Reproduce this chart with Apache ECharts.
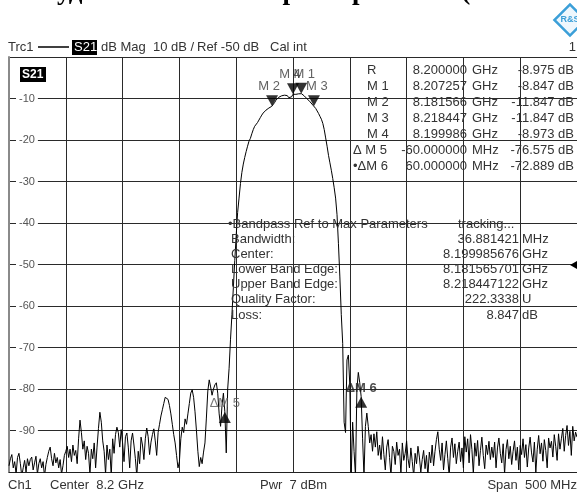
<!DOCTYPE html>
<html><head><meta charset="utf-8">
<script src="https://cdn.jsdelivr.net/npm/echarts@6/dist/echarts.min.js"></script>
<style>html,body{margin:0;padding:0;background:#fff;overflow:hidden}#c{width:577px;height:493px}</style>
</head><body><div id="c"></div>
<script>
// ---- sweep ----
const startMHz = 7950;     // Center 8.2 GHz, Span 500 MHz
const stopMHz = 8450;
const stepMHz = 1.25;      // 401 sweep points
const xTickMHz = 50;
const yMin = -100, yMax = 0, yStep = 10;

// ---- S21 trace (dB), one value per sweep point ----
const traceDb = [
 -98.5,-96.8,-95.8,-99,-97.5,-100.5,-96.5,-95.5,-98,-101,
 -99,-97.2,-100,-96.8,-98.5,-97,-96.4,-99.5,-97.8,-96.2,
 -100.5,-98,-96.8,-99,-97.5,-101,-98.2,-96.5,-95,-94,
 -96.8,-98.5,-95.5,-97.8,-96.5,-99,-97,-100.5,-98.5,-96,
 -95,-93.8,-96.5,-94.5,-97.5,-93.5,-96,-94.8,-98,-92,
 -87.5,-90.5,-94.5,-92.5,-97,-93.8,-95.5,-100.5,-94.5,-96.8,
 -93,-99,-94,-89.5,-85.6,-88,-92.5,-95,-100.5,-93.5,
 -97,-94.5,-101,-92,-95.5,-91,-89.2,-90.5,-94,-89.8,
 -93,-97.5,-91.5,-90.6,-94,-99,-92.5,-90.6,-93.5,-96.8,
 -101,-95,-98,-91.6,-93.5,-97,-92,-89.4,-91.5,-95.8,
 -92.8,-91,-89.6,-92.5,-96,-90.5,-88.5,-86.5,-85,-83.5,
 -82,-81.7,-82.5,-84,-86,-88.5,-91,-93,-96,-99,
 -97.5,-92,-89.2,-90.5,-87.2,-88.5,-86,-83.5,-81,-80.2,
 -82,-85.5,-90,-95,-98.7,-96.5,-98,-95.2,-93,-87,
 -80.5,-77.8,-79.5,-81.5,-80,-79,-78.5,-81,-86,-89,
 -84,-81,-85.5,-95.4,-80,-75,-68,-62,-55.5,-49,
 -43,-37.5,-34,-30.5,-27.8,-25.8,-24.2,-22.8,-21.5,-20.3,
 -19.6,-18.5,-17.5,-16.7,-16.5,-15.8,-15.2,-14.6,-14.0,-13.5,
 -13.1,-12.8,-12.5,-12.3,-12.1,-11.9,-11.5,-11.0,-10.4,-10.0,
 -9.7,-9.5,-9.35,-9.3,-9.2,-9.15,-9.3,-9.8,-10.0,-9.6,
 -8.97,-8.95,-9.0,-8.9,-8.87,-8.85,-8.85,-9.0,-9.4,-9.8,
 -10.1,-10.4,-10.8,-11.2,-11.6,-11.9,-12.4,-13.0,-13.6,-14.3,
 -15.0,-16.0,-17.5,-19.5,-21.5,-23.7,-25.5,-27.3,-29.3,-31.5,
 -34,-38,-45,-53,-62,-69,-88,-90.5,-73,-71.8,
 -79,-101,-88,-95,-101,-80,-76,-78.5,-81.86,-92,
 -101,-89,-85.8,-89,-93,-91,-95,-90.8,-94,-90.3,
 -96,-93.5,-97,-91.5,-95.8,-99.5,-94,-92.2,-96.5,-101,
 -93.8,-95,-98.2,-92.8,-96,-94.5,-100.5,-93,-97.2,-95.5,
 -92.5,-96.8,-99,-94.2,-97.5,-101,-95.5,-98,-93.8,-96.4,
 -100,-97,-94.8,-99.2,-96,-101,-95.2,-97.8,-93.5,-98.5,
 -95,-92.2,-90.3,-94.5,-97.2,-93,-99.5,-95.8,-92.5,-96.8,
 -101,-94,-91.8,-96.5,-93.2,-98,-95,-92.8,-97.5,-94.2,
 -99,-91.5,-95.2,-92,-97.8,-91,-94.6,-100.5,-93,-96.2,
 -92.4,-98.5,-94.8,-91.6,-96,-99.2,-93.5,-95.8,-92.6,-97,
 -94,-96.5,-92.8,-99,-94.2,-91.8,-95.5,-97.8,-93.2,-100.5,
 -94.6,-92.2,-96.8,-93.8,-98.2,-95,-92.5,-97.2,-94,-99.5,
 -93.6,-95.8,-92,-96.5,-93.4,-98.8,-94.2,-91.6,-95.4,-97.6,
 -92.8,-100.2,-94.5,-91.2,-95.6,-93,-97.4,-92.2,-94.8,-99,
 -91.8,-94.2,-92.6,-96.4,-91,-93.8,-97.2,-90.8,-94.5,-92,
 -89.5,-95,-91.2,-88.8,-93.6,-90.2,-96,-89,-92.5,-90.4,
 -91.6
];

// ---- markers ----
const refMarkerMHz = 8200.000, refMarkerDb = -8.975;
const markerNames = ['R', 'M 1', 'M 2', 'M 3', 'M 4', 'Δ M 5', '•ΔM 6'];
const markerStim  = ['8.200000', '8.207257', '8.181566', '8.218447', '8.199986', '-60.000000', '60.000000'];
const markerUnits = ['GHz', 'GHz', 'GHz', 'GHz', 'GHz', 'MHz', 'MHz'];
const markerResp  = ['-8.975', '-8.847', '-11.847', '-11.847', '-8.973', '-76.575', '-72.889'];
// plotted markers: absolute positions
const absMarkerLabels = ['M 1', 'M 2', 'M 3', 'M 4'];
const absMarkerMHz = [8207.257, 8181.566, 8218.447, 8199.986];
const absMarkerDb  = [-8.847, -11.847, -11.847, -8.973];
const deltaMarkerLabels = ['ΔM 5', 'ΔM 6'];
const deltaMarkerMHz = [-60, 60];
const deltaMarkerDb  = [-76.575, -72.889];

// ---- bandpass parameters ----
const bpLabels = ['Bandwidth:', 'Center:', 'Lower Band Edge:', 'Upper Band Edge:', 'Quality Factor:', 'Loss:'];
const bpValues = ['36.881421', '8.199985676', '8.181565701', '8.218447122', '222.3338', '8.847'];
const bpUnits  = ['MHz', 'GHz', 'GHz', 'GHz', 'U', 'dB'];

const FONT = '"Liberation Sans", Arial, sans-serif';
const TXT = '#333';

const chart = echarts.init(document.getElementById('c'), null, {renderer: 'canvas'});

const traceData = traceDb.map((v, i) => [startMHz + i * stepMHz, v]);

const downLabelOffsets = {'M 1': [3, 0], 'M 2': [-3, 0], 'M 3': [3, 0], 'M 4': [-3, 0]};
const downData = absMarkerLabels.map((n, k) => ({
  value: [absMarkerMHz[k], absMarkerDb[k]], name: n,
  label: {offset: downLabelOffsets[n]}
}));
const upData = deltaMarkerLabels.map((n, k) => ({
  value: [refMarkerMHz + deltaMarkerMHz[k], refMarkerDb + deltaMarkerDb[k]], name: n,
  label: n === 'ΔM 6' ? {fontWeight: 'bold', color: '#222'} : {}
}));

const graphics = [];
function txt(x, y, s, opt) {
  graphics.push(Object.assign({type: 'text', x: x, y: y, silent: true, z: 50,
    style: Object.assign({text: s, fill: TXT, font: '13px ' + FONT, textVerticalAlign: 'middle', verticalAlign: 'middle'}, opt || {})}));
}
// title (cropped at top)
graphics.push({type: 'text', x: -40, y: 6, z: 50, silent: true,
  style: {text: 'Амплитудно-частотные характеристики (', fill: '#000',
    font: 'bold 27px "Liberation Serif", "Times New Roman", serif', verticalAlign: 'bottom', textVerticalAlign: 'bottom'}});
// logo
graphics.push({type: 'rect', x: 559, y: 9, originX: 11, originY: 11, rotation: Math.PI / 4, z: 50, silent: true,
  shape: {x: 0, y: 0, width: 22, height: 22}, style: {fill: '#eef7fd', stroke: '#3b9fd8', lineWidth: 2.5}});
txt(570, 20, 'R&S', {font: 'bold 9px ' + FONT, fill: '#3b9fd8', align: 'center', textAlign: 'center'});
// header line
txt(8, 47, 'Trc1');
graphics.push({type: 'line', z: 50, silent: true, shape: {x1: 38, y1: 47, x2: 69, y2: 47}, style: {stroke: '#000', lineWidth: 1.5}});
graphics.push({type: 'rect', z: 50, silent: true, shape: {x: 72, y: 40, width: 25, height: 15}, style: {fill: '#000'}});
txt(74, 47.5, 'S21', {fill: '#fff'});
txt(101, 47, 'dB Mag');
txt(153, 47, '10 dB /');
txt(197, 47, 'Ref -50 dB');
txt(270, 47, 'Cal int');
txt(576, 47, '1', {align: 'right', textAlign: 'right'});
// footer
txt(8, 485, 'Ch1');
txt(50, 485, 'Center  8.2 GHz');
txt(260, 485, 'Pwr  7 dBm');
txt(577, 485, 'Span  500 MHz', {align: 'right', textAlign: 'right'});
// S21 tag inside diagram
graphics.push({type: 'rect', z: 50, silent: true, shape: {x: 20, y: 67, width: 26, height: 15}, style: {fill: '#000'}});
txt(22, 75, 'S21', {fill: '#fff', font: 'bold 12px ' + FONT});
// reference level arrow on right edge (-50 dB)
graphics.push({type: 'polygon', z: 50, silent: true, shape: {points: [[570, 265], [578, 260.5], [578, 269.5]]}, style: {fill: '#000'}});
// marker table
const rowY0 = 70, rowDY = 16;
markerNames.forEach((n, k) => {
  const y = rowY0 + k * rowDY;
  txt(n.charAt(0) === 'Δ' || n.charAt(0) === '•' ? 353 : 367, y, n);
  txt(467, y, markerStim[k], {align: 'right', textAlign: 'right'});
  txt(472, y, markerUnits[k]);
  txt(574, y, markerResp[k] + ' dB', {align: 'right', textAlign: 'right'});
});
// bandpass table
txt(228, 224, '•Bandpass Ref to Max Parameters');
txt(458, 224, 'tracking...');
bpLabels.forEach((l, k) => {
  const y = 239 + k * 15.2;
  txt(231, y, l);
  txt(519, y, bpValues[k], {align: 'right', textAlign: 'right'});
  txt(522, y, bpUnits[k]);
});

chart.setOption({
  animation: false,
  backgroundColor: '#fff',
  grid: {left: 9, top: 57, width: 570, height: 415, containLabel: false},
  xAxis: {
    type: 'value', min: startMHz, max: stopMHz, interval: xTickMHz,
    axisLabel: {show: false}, axisTick: {show: false},
    axisLine: {show: true, onZero: false, lineStyle: {color: '#222', width: 1}},
    splitLine: {show: true, lineStyle: {color: '#2a2a2a', width: 1}}
  },
  yAxis: {
    type: 'value', min: yMin, max: yMax, interval: yStep,
    axisTick: {show: false},
    axisLine: {show: true, lineStyle: {color: '#8a8a8a', width: 2}},
    splitLine: {show: true, lineStyle: {color: '#2a2a2a', width: 1}},
    axisLabel: {inside: true, margin: 7, color: '#555', fontSize: 11, fontFamily: FONT,
      backgroundColor: '#fff', padding: [1, 3], showMinLabel: false, showMaxLabel: false}
  },
  series: [
    {type: 'line', data: traceData, showSymbol: false, symbol: 'none', clip: true,
      lineStyle: {color: '#000', width: 1}, z: 3},
    {type: 'scatter', data: downData, z: 5,
      symbol: 'path://M0,0L12,0L6,11Z', symbolSize: [12, 11], symbolOffset: [0, '-50%'],
      itemStyle: {color: '#000'},
      label: {show: true, position: 'top', distance: 2, formatter: p => p.name, color: '#3a3a3a', fontSize: 13, fontFamily: FONT}},
    {type: 'scatter', data: upData, z: 5,
      symbol: 'path://M6,0L12,11L0,11Z', symbolSize: [12, 11], symbolOffset: [0, '50%'],
      itemStyle: {color: '#000'},
      label: {show: true, position: 'top', distance: 2, formatter: p => p.name, color: '#555', fontSize: 13, fontFamily: FONT}}
  ],
  graphic: graphics
});
</script></body></html>
